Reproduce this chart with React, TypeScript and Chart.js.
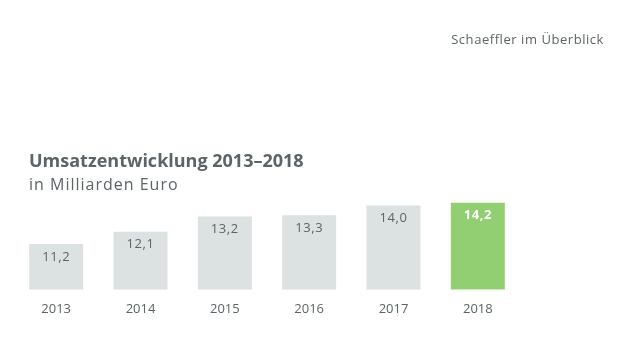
import React, { useEffect, useRef } from "react";
import { Chart, registerables } from "chart.js";

Chart.register(...registerables);

const years = ["2013", "2014", "2015", "2016", "2017", "2018"];
const revenue = [11.2, 12.1, 13.2, 13.3, 14.0, 14.2];
const valueLabels = ["11,2", "12,1", "13,2", "13,3", "14,0", "14,2"];
const barColors = ["#dce1e1", "#dce1e1", "#dce1e1", "#dce1e1", "#dce1e1", "#92cf72"];
const labelColors = ["#5c6467", "#5c6467", "#5c6467", "#5c6467", "#5c6467", "#ffffff"];
const labelWeights = ["normal", "normal", "normal", "normal", "normal", "bold"];

const FONT = "'Open Sans', 'DejaVu Sans', sans-serif";

const valueLabelPlugin = {
  id: "valueLabels",
  afterDatasetsDraw(chart: any) {
    const ctx = chart.ctx;
    const meta = chart.getDatasetMeta(0);
    ctx.save();
    ctx.textAlign = "center";
    ctx.textBaseline = "middle";
    try { (ctx as any).letterSpacing = "0.6px"; } catch (e) {}
    meta.data.forEach((bar: any, i: number) => {
      ctx.font = `${labelWeights[i]} 13px ${FONT}`;
      ctx.fillStyle = labelColors[i];
      ctx.fillText(valueLabels[i], bar.x, bar.y + 13);
    });
    ctx.restore();
  },
};

export default function App() {
  const ref = useRef<HTMLCanvasElement>(null);
  useEffect(() => {
    if (!ref.current) return;
    const chart = new Chart(ref.current, {
      type: "bar",
      data: {
        labels: years,
        datasets: [
          {
            data: revenue,
            backgroundColor: barColors,
            borderWidth: 0,
            barPercentage: 0.64,
            categoryPercentage: 1,
          },
        ],
      },
      options: {
        responsive: false,
        animation: false,
        layout: { padding: { left: 14, right: 99, top: 178, bottom: 32 } },
        plugins: { legend: { display: false }, tooltip: { enabled: false } },
        scales: {
          x: {
            grid: { display: false, drawTicks: false },
            border: { display: false },
            ticks: { color: "#5c6467", font: { family: FONT, size: 13 }, padding: 12 },
          },
          y: { display: false, min: 7.9, max: 16 },
        },
      },
      plugins: [valueLabelPlugin],
    });
    return () => chart.destroy();
  }, []);

  return (
    <div style={{ position: "fixed", left: 0, top: 0, width: 619, height: 361, background: "#fff", fontFamily: FONT }}>
      <canvas ref={ref} width={619} height={361} style={{ position: "absolute", left: 0, top: 0, display: "block" }} />
      <div style={{ position: "absolute", right: 15, top: 30, fontSize: 13, letterSpacing: "0.55px", color: "#5c6467", whiteSpace: "nowrap" }}>
        Schaeffler im Überblick
      </div>
      <div style={{ position: "absolute", left: 29, top: 148, fontSize: 18, fontWeight: 700, color: "#5c6467", whiteSpace: "nowrap" }}>
        Umsatzentwicklung 2013–2018
      </div>
      <div style={{ position: "absolute", left: 29, top: 173, fontSize: 16, letterSpacing: "1px", color: "#5c6467", whiteSpace: "nowrap" }}>
        in Milliarden Euro
      </div>
    </div>
  );
}
